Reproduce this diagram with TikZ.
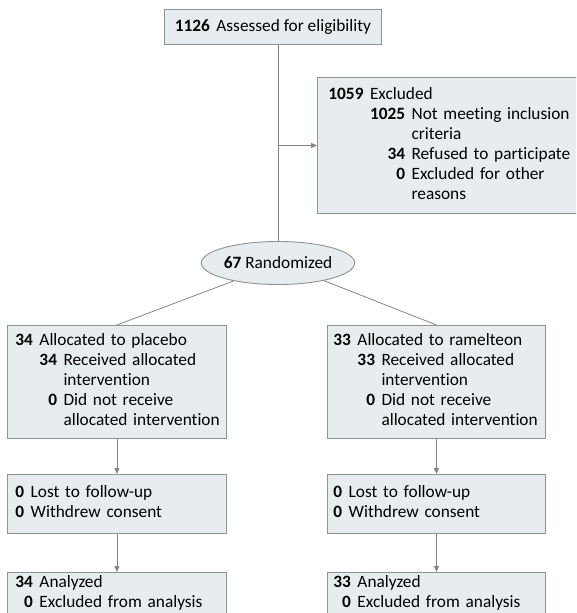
\documentclass[tikz,border=0pt]{standalone}
\usepackage{fontspec}
\setmainfont{Carlito}[Ligatures={NoCommon}]
\usetikzlibrary{arrows.meta,shapes.geometric}
\definecolor{boxfill}{HTML}{E7ECEF}
\definecolor{boxline}{HTML}{8E9397}
\definecolor{conn}{HTML}{858585}
\newcommand{\gp}{\kern6.5pt}
\begin{document}
\begin{tikzpicture}[x=1pt,y=-1pt,
  every node/.style={font=\fontsize{17.3}{20}\selectfont},
  cbox/.style={draw=boxline, fill=boxfill, line width=0.9pt, rectangle,
    anchor=north west, inner ysep=0pt, align=left},
  ellbox/.style={draw=boxline, fill=boxfill, line width=0.9pt, ellipse,
    inner sep=0pt, minimum width=152pt, minimum height=43pt},
  conn/.style={draw=conn, line width=0.8pt},
  arr/.style={conn, -{Triangle[length=6pt,width=5pt]}}
]
\useasboundingbox (0,0) rectangle (576,613);
\clip (0,0) rectangle (576,613);

\node[cbox, anchor=north west, minimum width=217pt, minimum height=35pt, align=center, inner xsep=0pt] (top) at (164,9)
  {\textbf{1126}\gp Assessed for eligibility};

\node[cbox, inner xsep=11pt, text width=238pt, minimum height=136pt] (excl) at (317,77)
  {\begin{tabular}{@{}l@{}r@{}l@{}}
   \textbf{1059}\gp & \multicolumn{2}{@{}l@{}}{Excluded}\\
   & \textbf{1025} & \gp Not meeting inclusion\\
   & & \gp criteria\\
   & \textbf{34} & \gp Refused to participate\\
   & \textbf{0} & \gp Excluded for other\\
   & & \gp reasons
   \end{tabular}};

\node[ellbox] (ell) at (278,263) {\textbf{67}\kern4pt Randomized};

\node[cbox, inner xsep=8pt, text width=203pt, minimum height=113pt] (lalloc) at (7,325)
  {\begin{tabular}{@{}l@{}r@{}l@{}}
   \textbf{34}\gp & \multicolumn{2}{@{}l@{}}{Allocated to placebo}\\
   & \textbf{34} & \gp Received allocated\\
   & & \gp intervention\\
   & \textbf{0} & \gp Did not receive\\
   & & \gp allocated intervention
   \end{tabular}};

\node[cbox, inner xsep=6pt, text width=206pt, minimum height=113pt] (ralloc) at (327,325)
  {\begin{tabular}{@{}l@{}r@{}l@{}}
   \textbf{33}\gp & \multicolumn{2}{@{}l@{}}{Allocated to ramelteon}\\
   & \textbf{33} & \gp Received allocated\\
   & & \gp intervention\\
   & \textbf{0} & \gp Did not receive\\
   & & \gp allocated intervention
   \end{tabular}};

\node[cbox, inner xsep=8pt, text width=203pt, minimum height=59pt] (lmid) at (7,474)
  {\begin{tabular}{@{}r@{}l@{}}
   \textbf{0} & \gp Lost to follow-up\\
   \textbf{0} & \gp Withdrew consent
   \end{tabular}};

\node[cbox, inner xsep=6pt, text width=206pt, minimum height=59pt] (rmid) at (327,474)
  {\begin{tabular}{@{}r@{}l@{}}
   \textbf{0} & \gp Lost to follow-up\\
   \textbf{0} & \gp Withdrew consent
   \end{tabular}};

\node[cbox, inner xsep=8pt, text width=203pt, minimum height=60pt] (lbot) at (7,572)
  {\raisebox{9pt}[\height][\depth]{\begin{tabular}{@{}r@{}l@{}}
   \textbf{34} & \gp Analyzed\\
   \textbf{0} & \gp Excluded from analysis
   \end{tabular}}};

\node[cbox, inner xsep=6pt, text width=206pt, minimum height=60pt] (rbot) at (327,572)
  {\raisebox{9pt}[\height][\depth]{\begin{tabular}{@{}r@{}l@{}}
   \textbf{33} & \gp Analyzed\\
   \textbf{0} & \gp Excluded from analysis
   \end{tabular}}};

\draw[conn] (top.south -| ell.north) -- (ell.north);
\draw[arr] (ell.north |- excl.west) -- (excl.west);
\draw[conn] (ell.202) -- (lalloc.north);
\draw[conn] (ell.339) -- (ralloc.north);
\draw[arr] (lalloc.south) -- (lmid.north);
\draw[arr] (ralloc.south) -- (rmid.north);
\draw[arr] (lmid.south) -- (lbot.north);
\draw[arr] (rmid.south) -- (rbot.north);
\end{tikzpicture}
\end{document}
